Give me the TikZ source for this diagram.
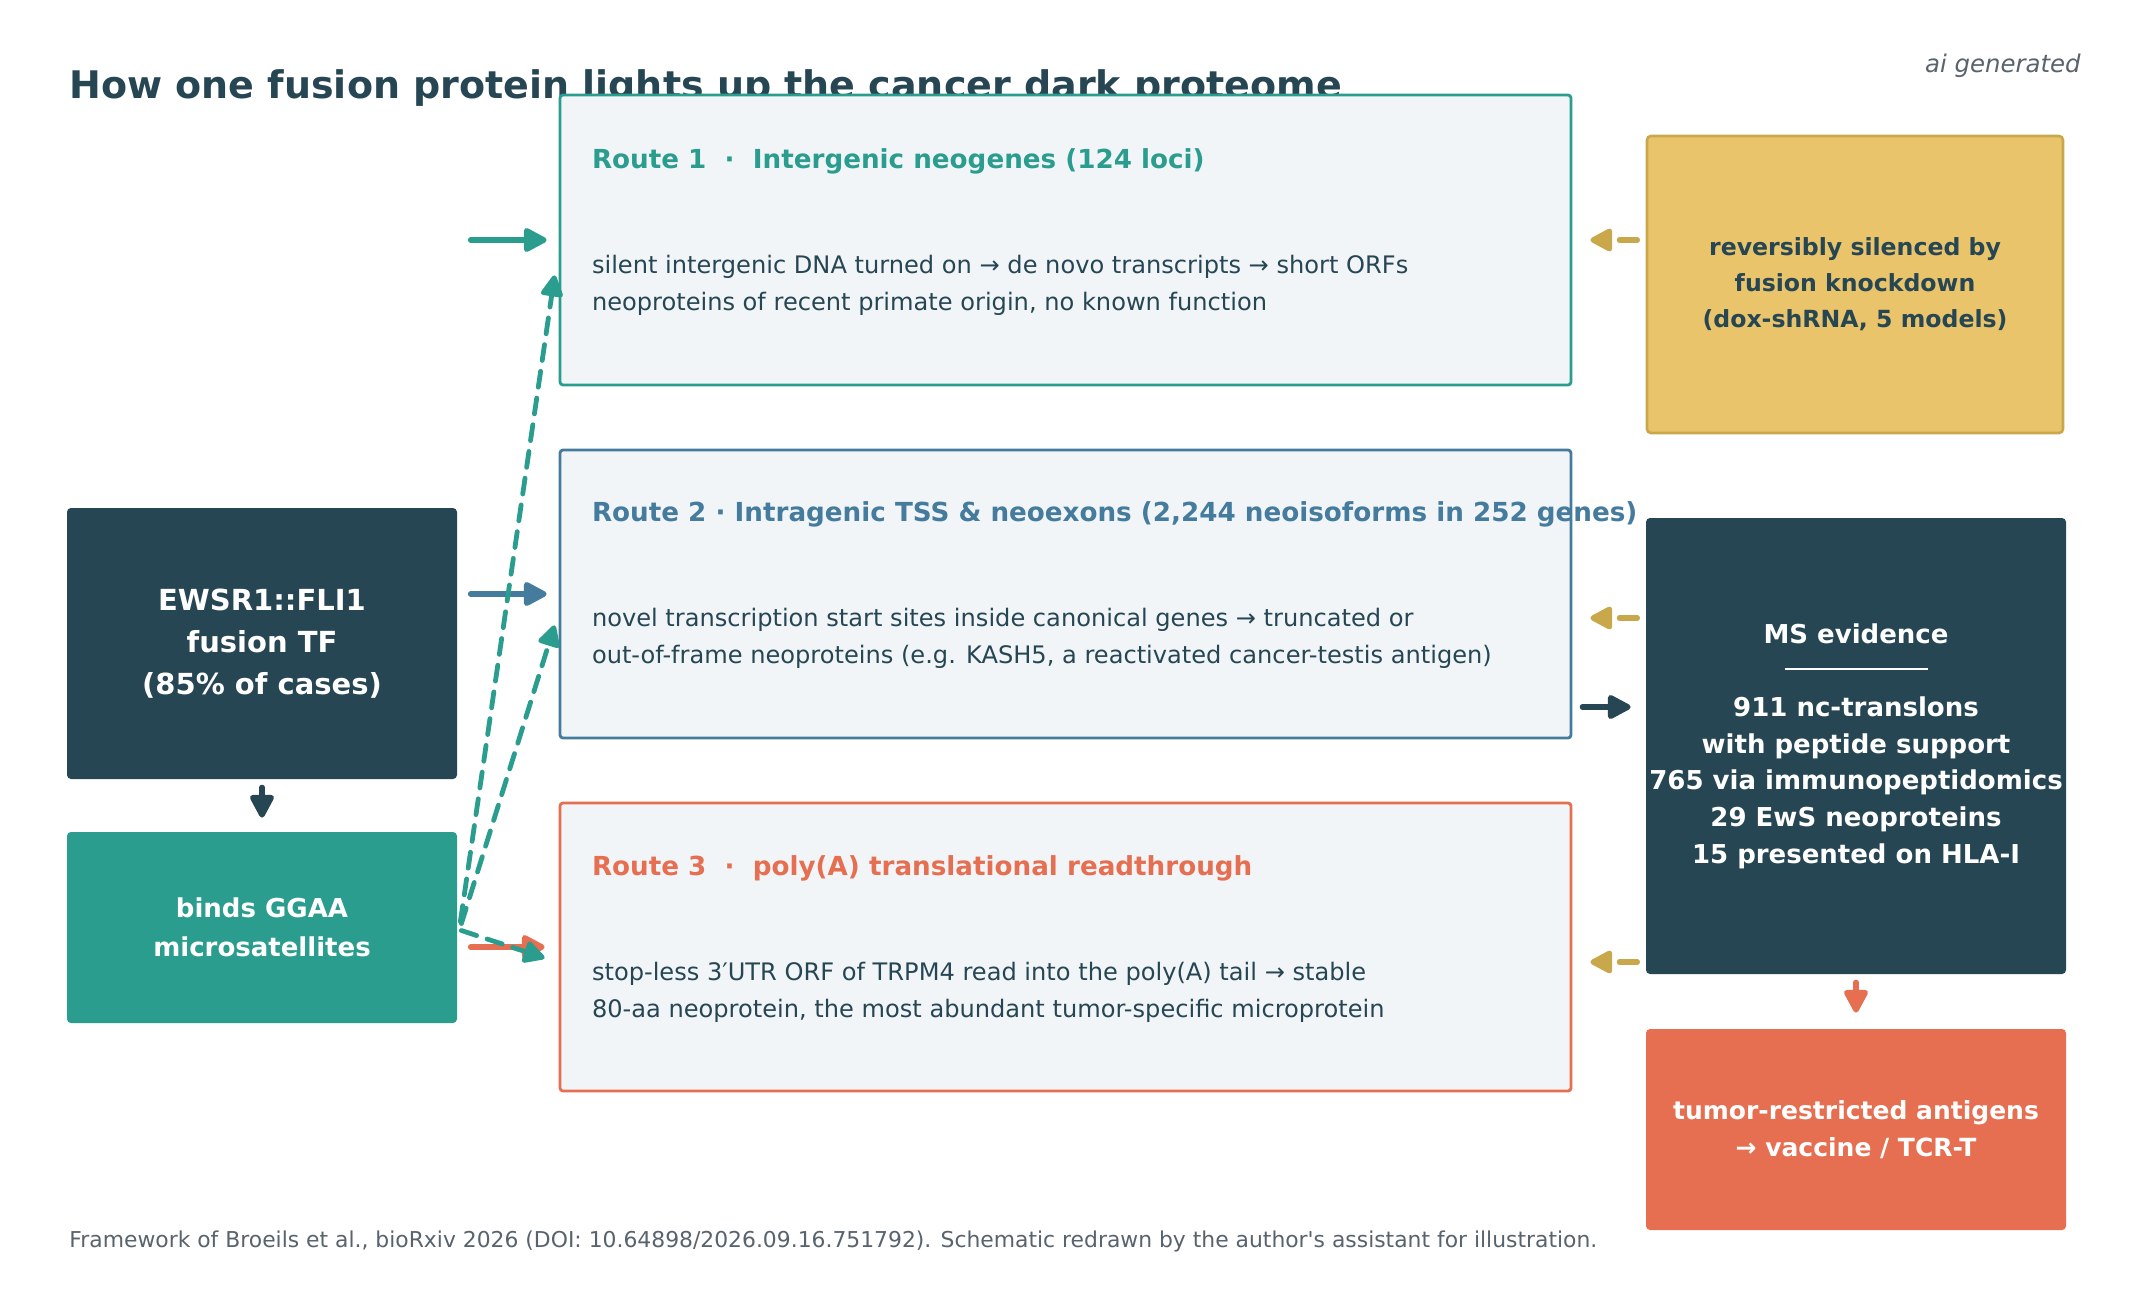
\documentclass[tikz,border=0pt]{standalone}
\usepackage{fontspec}
\setmainfont{DejaVu Sans}
\usetikzlibrary{arrows.meta,calc}
\definecolor{navy}{HTML}{264653}
\definecolor{teal}{HTML}{2A9D8F}
\definecolor{steel}{HTML}{457B9D}
\definecolor{coral}{HTML}{E76F51}
\definecolor{sand}{HTML}{E9C46A}
\definecolor{gold}{HTML}{C9A84C}
\definecolor{paper}{HTML}{F1F5F8}
\definecolor{greytxt}{HTML}{58636E}
\begin{document}
\begin{tikzpicture}[x=0.5pt,y=-0.5pt,
  routebox/.style={draw=#1, fill=paper, line width=1.4pt, rounded corners=1.5pt, inner sep=0pt},
  solidbox/.style={fill=#1, rounded corners=2pt, inner sep=0pt, align=center},
  rtitle/.style={font=\fontsize{13.1}{16}\selectfont\bfseries, inner sep=0pt, anchor=west},
  rbody/.style={font=\fontsize{12.05}{18.35}\selectfont, text=navy, inner sep=0pt, anchor=west, align=left},
  arr/.style={draw=#1, line width=2.7pt, line cap=round, -{Triangle[length=13pt,width=13pt,round]}},
  darr/.style={draw=teal, line width=2.4pt, line cap=round, dash pattern=on 8pt off 5.5pt, -{Triangle[length=12pt,width=12pt,round]}},
  garr/.style={draw=gold, line width=2.6pt, line cap=round, dash pattern=on 9pt off 20pt, -{Triangle[length=12.5pt,width=12.5pt,round]}}
]
\useasboundingbox (0,0) rectangle (2131,1297);
\fill[white] (0,0) rectangle (2131,1297);

% title and notes
\node[font=\fontsize{19}{22}\selectfont\bfseries, text=navy, anchor=west, inner sep=0pt] (title) at (69,88) {How one fusion protein lights up the cancer dark proteome};
\node[font=\fontsize{12.2}{14}\selectfont\itshape, text=greytxt, anchor=east, inner sep=0pt] (aigen) at (2081,66) {ai generated};
\node[font=\fontsize{10.93}{12}\selectfont, text=greytxt, anchor=west, inner sep=0pt] (foot) at (69,1241) {Framework of Broeils et al., bioRxiv 2026 (DOI: 10.64898/2026.09.16.751792). Schematic redrawn by the author\textquotesingle s assistant for illustration.};

% route boxes
\node[routebox=teal, minimum width=505.5pt, minimum height=145pt] (r1) at (1065.5,240) {};
\node[routebox=steel, minimum width=505.5pt, minimum height=144pt] (r2) at (1065.5,594) {};
\node[routebox=coral, minimum width=505.5pt, minimum height=144pt] (r3) at (1065.5,947) {};

\node[rtitle, text=teal] (t1) at ($(r1.north west)+(33,68)$) {Route 1\ \ ·\ \ Intergenic neogenes (124 loci)};
\node[rbody] (b1) at ($(r1.north west)+(33,192)$) {silent intergenic DNA turned on → de novo transcripts → short ORFs\\neoproteins of recent primate origin, no known function};

\node[rtitle, text=steel] (t2) at ($(r2.north west)+(33,66)$) {Route 2 · Intragenic TSS \& neoexons (2,244 neoisoforms in 252 genes)};
\node[rbody] (b2) at ($(r2.north west)+(33,190)$) {novel transcription start sites inside canonical genes → truncated or\\out-of-frame neoproteins (e.g. KASH5, a reactivated cancer-testis antigen)};

\node[rtitle, text=coral] (t3) at ($(r3.north west)+(33,67)$) {Route 3\ \ ·\ \ poly(A) translational readthrough};
\node[rbody] (b3) at ($(r3.north west)+(33,191)$) {stop-less 3′UTR ORF of TRPM4 read into the poly(A) tail → stable\\80-aa neoprotein, the most abundant tumor-specific microprotein};

% left boxes
\node[solidbox=navy, text=white, minimum width=195pt, minimum height=135.5pt, font=\fontsize{14.5}{21}\selectfont\bfseries] (ewsr) at (262,643.5) {EWSR1::FLI1\\fusion TF\\(85\% of cases)};
\node[solidbox=teal, text=white, minimum width=195pt, minimum height=95.5pt, font=\fontsize{13}{19.3}\selectfont\bfseries] (ggaa) at (262,927.5) {binds GGAA\\microsatellites};

% right boxes
\node[solidbox=sand, draw=gold, line width=1.3pt, text=navy, minimum width=208pt, minimum height=148.5pt, font=\fontsize{11.8}{18}\selectfont\bfseries] (yel) at (1855,284.5) {reversibly silenced by\\fusion knockdown\\(dox-shRNA, 5 models)};
\node[solidbox=navy, text=white, minimum width=210pt, minimum height=228pt, font=\fontsize{13}{18.35}\selectfont\bfseries] (ms) at (1856,746) {MS evidence\\\rule[0.36em]{71.5pt}{1pt}\\911 nc-translons\\with peptide support\\765 via immunopeptidomics\\29 EwS neoproteins\\15 presented on HLA-I};
\node[solidbox=coral, text=white, minimum width=210pt, minimum height=100.5pt, font=\fontsize{12.5}{18.5}\selectfont\bfseries] (tum) at (1856,1129.5) {tumor-restricted antigens\\→ vaccine / TCR-T};

% input arrows
\coordinate (in1) at ($(r1.west)+(-88,0)$);
\coordinate (in2) at ($(r2.west)+(-88,0)$);
\coordinate (in3) at ($(r3.west)+(-88,0)$);
\draw[arr=teal] (in1) -- ($(r1.west)+(-12,0)$);
\draw[arr=steel] (in2) -- ($(r2.west)+(-12,0)$);
\draw[arr=coral] (in3) -- ($(r3.west)+(-14,0)$);

% ewsr -> ggaa
\draw[arr=navy] ($(ewsr.south)+(0,8)$) -- ($(ggaa.north)+(0,-14)$);

% dashed from ggaa
\draw[darr] ($(ggaa.east)+(3,-6)$) -- ($(r1.south west)+(-4,-111)$);
\draw[darr] ($(ggaa.east)+(4,-4)$) -- ($(r2.south west)+(-4,-114)$);
\draw[darr] ($(ggaa.east)+(4,3)$) -- ($(r3.west)+(-14,11)$);

% gold arrows
\draw[garr] ($(r1.east)+(65,0)$) -- ($(r1.east)+(18,0)$);
\draw[garr] ($(r2.east)+(65,24)$) -- ($(r2.east)+(18,24)$);
\draw[garr] ($(r3.east)+(65,15)$) -- ($(r3.east)+(18,15)$);

% route2 -> ms, ms -> tumor
\draw[arr=navy] ($(r2.east)+(10,113)$) -- ($(ms.west)+(-15,-39)$);
\draw[arr=coral] ($(ms.south)+(0,8)$) -- ($(tum.north)+(0,-16)$);
\end{tikzpicture}
\end{document}
